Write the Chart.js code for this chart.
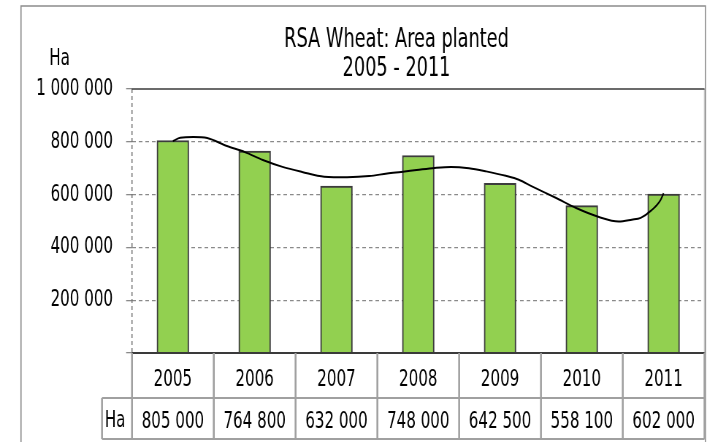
<!DOCTYPE html>
<html><head><meta charset="utf-8">
<script src="https://cdn.jsdelivr.net/npm/chart.js@4/dist/chart.umd.min.js"></script>
<style>
html,body{margin:0;padding:0;background:#fff;overflow:hidden;}
#wrap{position:absolute;left:0;top:0;width:968px;height:442px;transform:scaleX(0.730372);transform-origin:0 0;}
</style></head><body>
<div id="wrap"><canvas id="c"></canvas></div>
<script>
// ---- data ----
const titleLines = ['RSA Wheat: Area planted', '2005 - 2011'];
const unitLabel = 'Ha';
const categories = ['2005', '2006', '2007', '2008', '2009', '2010', '2011'];
const areaPlanted = [805000, 764800, 632000, 748000, 642500, 558100, 602000];
const yTickValues = [0, 200000, 400000, 600000, 800000, 1000000];
// trend curve (x = category index, y = hectares)
const trendX = [0.00, 0.09, 0.25, 0.42, 0.66, 0.88, 1.10, 1.34, 1.58, 1.85, 2.13, 2.40, 2.62, 2.79, 2.98, 3.20, 3.40, 3.62, 3.83, 4.07, 4.23, 4.39, 4.68, 4.93, 5.21, 5.45, 5.61, 5.72, 5.85, 5.96, 6.00];
const trendY = [803000, 815000, 818000, 814000, 784000, 761000, 731000, 705000, 686000, 668000, 666000, 670000, 680000, 686000, 693000, 701000, 705000, 700000, 688000, 671000, 656000, 631000, 588000, 549000, 515000, 498000, 505000, 512000, 540000, 578000, 605000];

const FONT = "'DejaVu Sans Condensed', 'DejaVu Sans', sans-serif";
const fmt = n => String(n).replace(/\B(?=(\d{3})+(?!\d))/g, ' ');

const framePlugin = {
  id: 'frame',
  afterDatasetsDraw(chart) {
    const ctx = chart.ctx, a = chart.chartArea;
    ctx.save();
    ctx.strokeStyle = '#707070'; ctx.lineWidth = 1.5; ctx.setLineDash([4, 3]);
    ctx.beginPath(); ctx.moveTo(a.left, a.top); ctx.lineTo(a.left, a.bottom); ctx.stroke();
    ctx.setLineDash([]);
    ctx.strokeStyle = '#c8c8c8'; ctx.lineWidth = 1.8;
    ctx.beginPath(); ctx.moveTo(a.right, a.top); ctx.lineTo(a.right, a.bottom); ctx.stroke();
    ctx.strokeStyle = '#3a3a3a'; ctx.lineWidth = 1.6;
    ctx.beginPath(); ctx.moveTo(a.left, a.top); ctx.lineTo(a.right, a.top); ctx.stroke();
    ctx.strokeStyle = '#3a3a3a'; ctx.lineWidth = 1.8;
    ctx.beginPath(); ctx.moveTo(a.left, a.bottom); ctx.lineTo(a.right, a.bottom); ctx.stroke();
    ctx.restore();
  },
  afterDraw(chart) {
    const ctx = chart.ctx, a = chart.chartArea, x = chart.scales.x;
    const n = categories.length;
    const row1 = a.bottom, row2 = 398, row3 = 439;
    const haLeft = 139.65;
    ctx.save();
    ctx.strokeStyle = '#8c8c8c';
    ctx.lineWidth = 1.6;
    ctx.beginPath(); ctx.moveTo(28.75, 445); ctx.lineTo(28.75, 6); ctx.lineTo(965.9, 6); ctx.lineTo(965.9, 445); ctx.stroke();
    ctx.strokeStyle = '#a0a0a0';
    ctx.lineWidth = 2;
    ctx.beginPath();
    ctx.moveTo(haLeft, row2); ctx.lineTo(a.right, row2);
    ctx.moveTo(haLeft, row3); ctx.lineTo(a.right, row3);
    ctx.stroke();
    ctx.lineWidth = 2.6;
    ctx.beginPath();
    for (let i = 0; i <= n; i++) {
      const xx = x.getPixelForValue(i - 0.5);
      ctx.moveTo(xx, row1); ctx.lineTo(xx, row3);
    }
    ctx.moveTo(haLeft, row2); ctx.lineTo(haLeft, row3);
    ctx.stroke();
    ctx.fillStyle = '#000';
    ctx.textAlign = 'center';
    ctx.textBaseline = 'alphabetic';
    ctx.font = '23px ' + FONT;
    for (let i = 0; i < n; i++) {
      const cx = x.getPixelForValue(i);
      ctx.fillText(categories[i], cx, 386);
      ctx.fillText(fmt(areaPlanted[i]), cx, 428);
    }
    ctx.fillText(unitLabel, 157.5, 427);
    ctx.fillText(unitLabel, 81.5, 65);
    ctx.font = '27px ' + FONT;
    ctx.fillText(titleLines[0], 542.9, 47);
    ctx.fillText(titleLines[1], 542.9, 76);
    ctx.restore();
  }
};

new Chart(document.getElementById('c'), {
  type: 'bar',
  data: {
    datasets: [
      {
        type: 'line', label: 'Trend',
        data: trendX.map((v, i) => ({ x: v, y: trendY[i] })),
        borderColor: '#000', borderWidth: 2, pointRadius: 0,
        cubicInterpolationMode: 'monotone', fill: false, order: 0
      },
      {
        type: 'bar', label: unitLabel,
        data: areaPlanted.map((v, i) => ({ x: i, y: v })),
        backgroundColor: '#92D050', borderColor: '#3c3c3c', borderWidth: 2,
        barThickness: 43.7, grouped: false, order: 1
      }
    ]
  },
  options: {
    responsive: true, maintainAspectRatio: false, animation: false,
    layout: { padding: { top: 89, right: 3.4, left: 0, bottom: 0 } },
    plugins: { legend: { display: false }, tooltip: { enabled: false }, title: { display: false } },
    scales: {
      x: {
        type: 'linear', min: -0.5, max: 6.5, offset: false,
        grid: { display: false }, border: { display: false },
        ticks: { display: false },
        afterFit(s) { s.height = 89; }
      },
      y: {
        min: 0, max: 1000000,
        afterBuildTicks(s) { s.ticks = yTickValues.map(v => ({ value: v })); },
        ticks: {
          callback: v => v === 0 ? '' : fmt(v),
          font: { family: FONT, size: 23 }, color: '#000', padding: 18
        },
        grid: {
          color: c => (c.tick && (c.tick.value === 0 || c.tick.value === 1000000)) ? 'rgba(0,0,0,0)' : '#8a8a8a',
          lineWidth: 1.3, tickLength: 8, tickColor: '#8a8a8a'
        },
        border: { display: false, dash: [5, 4] },
        afterFit(s) { s.width = 180.7; }
      }
    }
  },
  plugins: [framePlugin]
});
</script>
</body></html>
